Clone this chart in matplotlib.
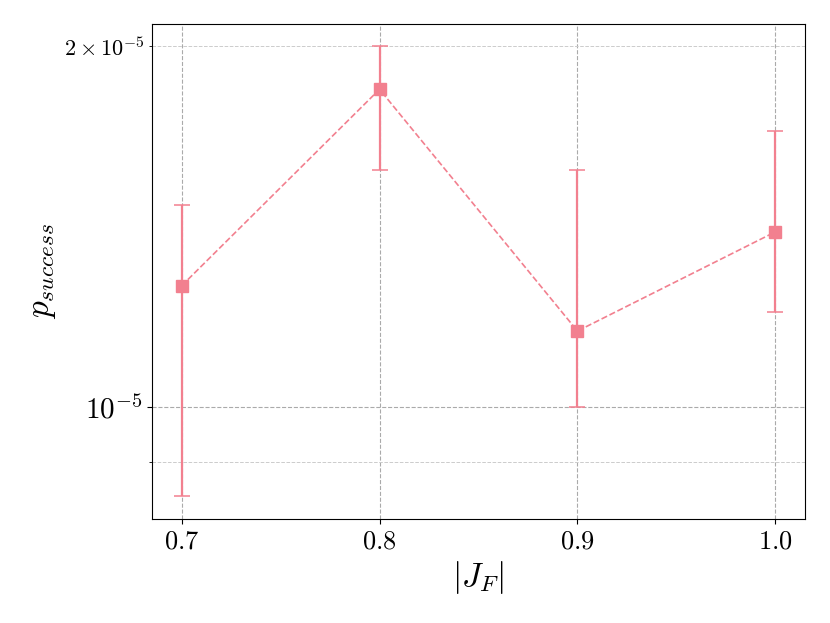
import matplotlib
matplotlib.use("Agg")
import matplotlib.pyplot as plt
from matplotlib.ticker import FixedLocator, FixedFormatter

plt.rcParams['mathtext.fontset'] = 'cm'
plt.rcParams['font.family'] = 'serif'
plt.rcParams['font.serif'] = ['DejaVu Serif']

jf = [0.7, 0.8, 0.9, 1.0]
p_success = [1.262e-5, 1.841e-5, 1.157e-5, 1.400e-5]
err_low = [0.842e-5, 1.578e-5, 1.000e-5, 1.200e-5]
err_high = [1.473e-5, 2.000e-5, 1.578e-5, 1.700e-5]

color = '#f2808f'

fig = plt.figure(figsize=(8.3, 6.23), dpi=100)
ax = fig.add_axes([0.183, 0.167, 0.787, 0.795])

yerr = [[p - l for p, l in zip(p_success, err_low)],
        [h - p for p, h in zip(p_success, err_high)]]
ax.errorbar(jf, p_success, yerr=yerr, fmt='s', color=color, ms=8,
            elinewidth=1.6, capsize=6, capthick=1.1, zorder=3)
ax.plot(jf, p_success, '--', color=color, lw=1.2, zorder=2)

ax.set_yscale('log')
ax.set_xticks(jf)
ax.set_xticklabels([r'$0.7$', r'$0.8$', r'$0.9$', r'$1.0$'])
ax.yaxis.set_major_locator(FixedLocator([1e-5]))
ax.yaxis.set_major_formatter(FixedFormatter([r'$10^{-5}$']))
ax.yaxis.set_minor_locator(FixedLocator([0.9e-5, 2e-5]))
ax.yaxis.set_minor_formatter(FixedFormatter(['', r'$2\times10^{-5}$']))
ax.tick_params(axis='x', which='major', labelsize=19)
ax.tick_params(axis='y', which='major', labelsize=21)
ax.tick_params(axis='y', which='minor', labelsize=16)

ax.grid(True, which='major', ls='--', color='#aaaaaa', lw=0.8)
ax.grid(True, which='minor', axis='y', ls='--', color='#cccccc', lw=0.7)
ax.set_axisbelow(True)

ax.set_xlabel(r'$|J_F|$', fontsize=24)
ax.set_ylabel(r'$p_{success}$', fontsize=24)

fig.savefig('out.png', dpi=100)
